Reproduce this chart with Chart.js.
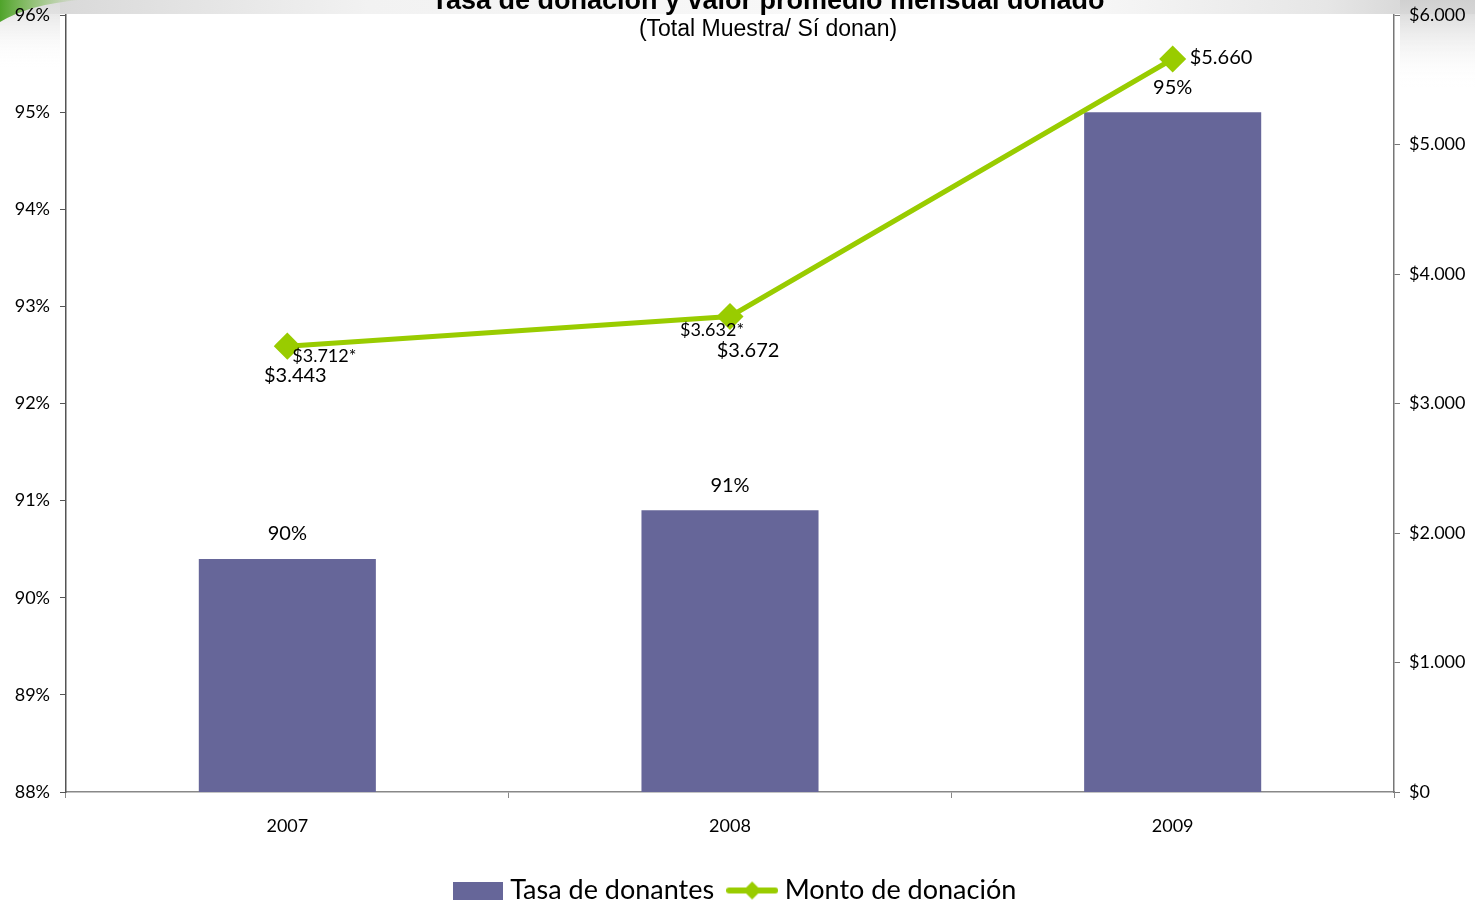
<!DOCTYPE html>
<html>
<head>
<meta charset="utf-8">
<script src="https://cdn.jsdelivr.net/npm/chart.js@4/dist/chart.umd.min.js"></script>
<style>
  html, body { margin: 0; padding: 0; background: #fff; }
  canvas { display: block; }
</style>
</head>
<body>
<canvas id="chart" width="1475" height="906"></canvas>
<script>
// data
var years = ['2007', '2008', '2009'];
var tasaDonantes = [90.4, 90.9, 95.0];
var tasaLabels = ['90%', '91%', '95%'];
var montoDonacion = [3443, 3672, 5660];
var montoNotas = ['$3.712*', '$3.632*', null];
var pctTicks = [88, 89, 90, 91, 92, 93, 94, 95, 96];
var moneyTicks = [0, 1000, 2000, 3000, 4000, 5000, 6000];

var BAR = '#666699';
var LINE = '#99CC00';
var FONT = 'Lato, "Noto Sans", sans-serif';

function money(v) {
  return '$' + String(v).replace(/\B(?=(\d{3})+(?!\d))/g, '.');
}

// legend icons
var barIcon = document.createElement('canvas');
barIcon.width = 50; barIcon.height = 18;
(function () {
  var c = barIcon.getContext('2d');
  c.fillStyle = BAR;
  c.fillRect(0, 0, 50, 18);
})();

var lineIcon = document.createElement('canvas');
lineIcon.width = 52; lineIcon.height = 22;
(function () {
  var c = lineIcon.getContext('2d');
  c.strokeStyle = LINE;
  c.lineWidth = 6;
  c.lineCap = 'round';
  c.beginPath(); c.moveTo(3, 11); c.lineTo(49, 11); c.stroke();
  c.fillStyle = LINE;
  c.beginPath(); c.moveTo(26, 2); c.lineTo(35, 11); c.lineTo(26, 20); c.lineTo(17, 11); c.closePath(); c.fill();
})();

// slide background bits
var backdrop = {
  id: 'backdrop',
  beforeDraw: function (chart) {
    var ctx = chart.ctx, w = chart.width;
    ctx.save();
    var g = ctx.createLinearGradient(0, 0, w, 0);
    g.addColorStop(0, '#d4d4d4');
    g.addColorStop(0.25, '#f2f2f2');
    g.addColorStop(0.7, '#fbfbfb');
    g.addColorStop(0.9, '#e6e6e6');
    g.addColorStop(1, '#cccccc');
    ctx.fillStyle = g;
    ctx.fillRect(0, 0, w, 14);

    var gl = ctx.createLinearGradient(0, 0, 0, 70);
    gl.addColorStop(0, '#dcdcdc');
    gl.addColorStop(1, 'rgba(255,255,255,0)');
    ctx.fillStyle = gl;
    ctx.fillRect(0, 0, 60, 70);

    var gr = ctx.createLinearGradient(0, 0, 0, 90);
    gr.addColorStop(0, '#d0d0d0');
    gr.addColorStop(1, 'rgba(255,255,255,0)');
    ctx.fillStyle = gr;
    ctx.fillRect(1400, 0, 75, 90);

    var gg = ctx.createLinearGradient(0, 0, 80, 0);
    gg.addColorStop(0, '#4fa32a');
    gg.addColorStop(1, 'rgba(120,190,60,0)');
    ctx.fillStyle = gg;
    ctx.beginPath();
    ctx.moveTo(0, 0);
    ctx.lineTo(80, 0);
    ctx.quadraticCurveTo(30, 4, 0, 22);
    ctx.closePath();
    ctx.fill();
    ctx.restore();
  }
};

// title, subtitle and value labels
var labels = {
  id: 'labels',
  afterDraw: function (chart) {
    var ctx = chart.ctx;
    var bars = chart.getDatasetMeta(0).data;
    var pts = chart.getDatasetMeta(1).data;
    ctx.save();
    ctx.fillStyle = '#000';
    ctx.textAlign = 'center';

    ctx.textBaseline = 'alphabetic';
    ctx.font = 'bold 27px "Liberation Sans", Arial, sans-serif';
    ctx.fillText('Tasa de donación y valor promedio mensual donado', 768, 9);
    ctx.textBaseline = 'middle';
    ctx.font = '23px "Liberation Sans", Arial, sans-serif';
    ctx.fillText('(Total Muestra/ Sí donan)', 768, 30);

    ctx.font = '20px ' + FONT;
    bars.forEach(function (b, i) {
      ctx.fillText(tasaLabels[i], b.x, b.y - 25);
    });

    var main = [[8, 29, 'center'], [18, 34, 'center'], [17, -1, 'left']];
    pts.forEach(function (p, i) {
      ctx.textAlign = main[i][2];
      ctx.fillText(money(montoDonacion[i]), p.x + main[i][0], p.y + main[i][1]);
    });

    var note = [[37, 10], [-18, 14]];
    ctx.font = '18px ' + FONT;
    ctx.textAlign = 'center';
    pts.forEach(function (p, i) {
      if (montoNotas[i]) ctx.fillText(montoNotas[i], p.x + note[i][0], p.y + note[i][1]);
    });
    ctx.restore();
  }
};

function noEndPadding(s) {
  s.paddingTop = 0;
  s.paddingBottom = 0;
}

new Chart(document.getElementById('chart'), {
  type: 'bar',
  data: {
    labels: years,
    datasets: [{
      type: 'bar',
      label: 'Tasa de donantes',
      data: tasaDonantes,
      backgroundColor: BAR,
      yAxisID: 'y',
      categoryPercentage: 0.8,
      barPercentage: 0.5,
      order: 2
    }, {
      type: 'line',
      label: 'Monto de donación',
      data: montoDonacion,
      borderColor: LINE,
      backgroundColor: LINE,
      borderWidth: 5,
      pointStyle: 'rectRot',
      pointRadius: 10,
      pointHoverRadius: 10,
      tension: 0,
      yAxisID: 'y1',
      order: 1
    }]
  },
  options: {
    responsive: false,
    animation: false,
    events: [],
    layout: { padding: { top: 14, bottom: -8, left: 0, right: 0 } },
    scales: {
      x: {
        offset: true,
        grid: { offset: true, drawOnChartArea: false, tickLength: 6, color: '#888' },
        border: { color: '#888', width: 1.5 },
        ticks: { color: '#000', padding: 17, font: { family: FONT, size: 18 } },
        afterFit: function (s) { s.height = 66; }
      },
      y: {
        position: 'left',
        min: pctTicks[0],
        max: pctTicks[pctTicks.length - 1],
        grid: { drawOnChartArea: false, tickLength: 6, color: '#555' },
        border: { color: '#555', width: 1.5 },
        ticks: {
          stepSize: 1,
          color: '#000',
          padding: 10,
          font: { family: FONT, size: 18 },
          callback: function (v) { return v + '%'; }
        },
        afterFit: function (s) { s.width = 66; noEndPadding(s); }
      },
      y1: {
        position: 'right',
        min: moneyTicks[0],
        max: moneyTicks[moneyTicks.length - 1],
        grid: { drawOnChartArea: false, tickLength: 6, color: '#777' },
        border: { color: '#777', width: 1.5 },
        ticks: {
          stepSize: 1000,
          color: '#000',
          padding: 9,
          font: { family: FONT, size: 18 },
          callback: function (v) { return money(v); }
        },
        afterFit: function (s) { s.width = 81; noEndPadding(s); }
      }
    },
    plugins: {
      tooltip: { enabled: false },
      legend: {
        position: 'bottom',
        labels: {
          usePointStyle: true,
          pointStyleWidth: 38,
          padding: 19,
          color: '#000',
          font: { family: FONT, size: 27 },
          generateLabels: function (chart) {
            var ds = chart.data.datasets;
            return [
              { text: ds[0].label, pointStyle: barIcon, datasetIndex: 0, fontColor: '#000', hidden: false, lineWidth: 0 },
              { text: ds[1].label, pointStyle: lineIcon, datasetIndex: 1, fontColor: '#000', hidden: false, lineWidth: 0 }
            ];
          }
        }
      }
    }
  },
  plugins: [backdrop, labels]
});
</script>
</body>
</html>
